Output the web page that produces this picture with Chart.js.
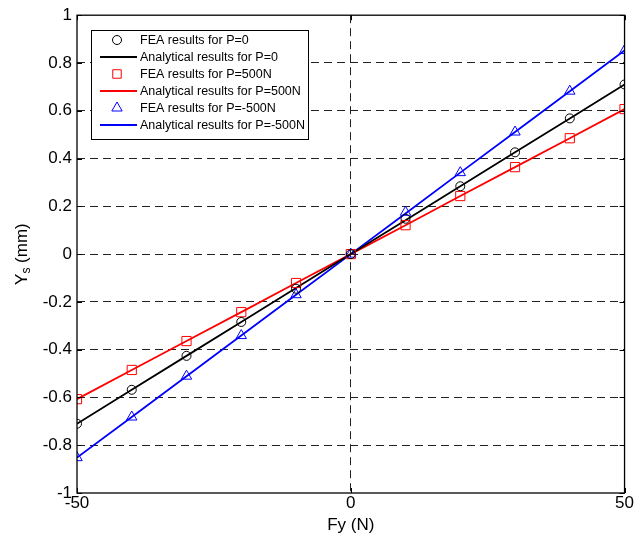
<!DOCTYPE html>
<html>
<head>
<meta charset="utf-8">
<script src="https://cdn.jsdelivr.net/npm/chart.js@4/dist/chart.umd.min.js"></script>
<style>
  html, body { margin: 0; padding: 0; background: #fff; }
  #wrap { width: 634px; height: 541px; }
</style>
</head>
<body>
<div id="wrap"><canvas id="c" width="634" height="541"></canvas></div>
<script>
// Y_s deflection vs lateral force Fy for three axial loads P.

const FY = [-50, -40, -30, -20, -10, 0, 10, 20, 30, 40, 50];

const FEA_P0 = [-0.71, -0.568, -0.426, -0.284, -0.145, 0, 0.148, 0.284, 0.426, 0.568, 0.71];
const ANA_P0 = [-0.71, -0.568, -0.426, -0.284, -0.142, 0, 0.142, 0.284, 0.426, 0.568, 0.71];

const FEA_P500 = [-0.607, -0.485, -0.364, -0.243, -0.121, 0, 0.121, 0.243, 0.364, 0.485, 0.607];
const ANA_P500 = [-0.607, -0.485, -0.364, -0.243, -0.121, 0, 0.121, 0.243, 0.364, 0.485, 0.607];

const FEA_PM500 = [-0.852, -0.682, -0.511, -0.341, -0.17, 0, 0.175, 0.341, 0.511, 0.682, 0.852];
const ANA_PM500 = [-0.852, -0.682, -0.511, -0.341, -0.17, 0, 0.17, 0.341, 0.511, 0.682, 0.852];

const X_TICKS = [-50, 0, 50];
const Y_TICKS = [-1, -0.8, -0.6, -0.4, -0.2, 0, 0.2, 0.4, 0.6, 0.8, 1];

const FONT = "Liberation Sans, Arial, sans-serif";

const pts = (ys) => FY.map((x, i) => ({ x, y: ys[i] }));

function fea(label, ys, color, style, r) {
  return {
    label, data: pts(ys), showLine: false,
    pointStyle: style, pointRadius: r, pointHoverRadius: r,
    pointBorderColor: color, pointBackgroundColor: "rgba(0,0,0,0)",
    pointBorderWidth: 1, borderColor: color, order: 0,
  };
}
function ana(label, ys, color) {
  return {
    label, data: pts(ys), showLine: true, pointRadius: 0,
    borderColor: color, borderWidth: 1.8, backgroundColor: color,
    order: 1,
  };
}

const datasets = [
  fea("FEA results for P=0", FEA_P0, "#000000", "circle", 4.5),
  ana("Analytical results for P=0", ANA_P0, "#000000"),
  fea("FEA results for P=500N", FEA_P500, "#ff0000", "rect", 6.5),
  ana("Analytical results for P=500N", ANA_P500, "#ff0000"),
  fea("FEA results for P=-500N", FEA_PM500, "#0000ff", "triangle", 6),
  ana("Analytical results for P=-500N", ANA_PM500, "#0000ff"),
];

// frame, inward ticks, axis titles and the boxed legend
const decor = {
  id: "decor",
  afterDatasetsDraw(chart) {
    const { ctx, chartArea: a, scales } = chart;
    ctx.save();
    ctx.strokeStyle = "#000";
    ctx.lineWidth = 1.3;
    ctx.strokeRect(a.left, a.top, a.right - a.left, a.bottom - a.top);
    ctx.lineWidth = 1;
    ctx.beginPath();
    for (const v of Y_TICKS) {
      const y = Math.round(scales.y.getPixelForValue(v)) + 0.5;
      ctx.moveTo(a.left, y); ctx.lineTo(a.left + 5, y);
      ctx.moveTo(a.right, y); ctx.lineTo(a.right - 5, y);
    }
    for (const v of X_TICKS) {
      const x = Math.round(scales.x.getPixelForValue(v)) + 0.5;
      ctx.moveTo(x, a.bottom); ctx.lineTo(x, a.bottom - 5);
      ctx.moveTo(x, a.top); ctx.lineTo(x, a.top + 5);
    }
    ctx.stroke();

    // axis titles
    ctx.fillStyle = "#000";
    ctx.font = "17px " + FONT;
    ctx.textAlign = "center";
    ctx.textBaseline = "middle";
    ctx.fillText("Fy (N)", (a.left + a.right) / 2, 525);
    ctx.save();
    ctx.translate(22, (a.top + a.bottom) / 2);
    ctx.rotate(-Math.PI / 2);
    ctx.textAlign = "left";
    const w1 = ctx.measureText("Y").width;
    ctx.font = "12px " + FONT;
    const w2 = ctx.measureText("s").width;
    ctx.font = "17px " + FONT;
    const w3 = ctx.measureText(" (mm)").width;
    let x0 = -(w1 + w2 + w3) / 2;
    ctx.fillText("Y", x0, 0);
    ctx.font = "12px " + FONT;
    ctx.fillText("s", x0 + w1, 5);
    ctx.font = "17px " + FONT;
    ctx.fillText(" (mm)", x0 + w1 + w2, 0);
    ctx.restore();

    // legend
    const L = 91, T = 30, W = 217, H = 109, rowH = 17;
    ctx.fillStyle = "#fff";
    ctx.fillRect(L, T, W, H);
    ctx.strokeStyle = "#000";
    ctx.lineWidth = 1;
    ctx.strokeRect(L + 0.5, T + 0.5, W, H);
    ctx.font = "12.5px " + FONT;
    ctx.textAlign = "left";
    ctx.textBaseline = "middle";
    chart.data.datasets.forEach((ds, i) => {
      const y = T + 10 + i * rowH;
      if (ds.showLine) {
        ctx.strokeStyle = ds.borderColor;
        ctx.lineWidth = 1.8;
        ctx.beginPath();
        ctx.moveTo(L + 9, y); ctx.lineTo(L + 46, y);
        ctx.stroke();
      } else {
        ctx.strokeStyle = ds.pointBorderColor;
        ctx.fillStyle = "rgba(0,0,0,0)";
        ctx.lineWidth = 1;
        Chart.helpers.drawPoint(ctx, {
          pointStyle: ds.pointStyle, radius: ds.pointStyle === "circle" ? 4.5 : 6,
          borderWidth: 1,
        }, L + 26, y);
      }
      ctx.fillStyle = "#000";
      ctx.fillText(ds.label, L + 49, y + 1);
    });
    ctx.restore();
  },
};

new Chart(document.getElementById("c"), {
  type: "scatter",
  data: { datasets },
  plugins: [decor],
  options: {
    responsive: false,
    animation: false,
    events: [],
    layout: { padding: { left: 0, right: 8, top: 15, bottom: 0 } },
    plugins: { legend: { display: false }, tooltip: { enabled: false } },
    scales: {
      x: {
        type: "linear", min: -50, max: 50,
        afterBuildTicks: (s) => { s.ticks = X_TICKS.map((v) => ({ value: v })); },
        afterFit: (s) => { s.height = 48; },
        ticks: { color: "#000", font: { family: FONT, size: 17 }, padding: 0, maxRotation: 0,
                 callback: (v) => String(v) },
        grid: { color: (c) => (c.tick && c.tick.value === 0 ? "#222" : "rgba(0,0,0,0)"), lineWidth: 1, drawTicks: false },
        border: { display: false, dash: [8, 5] },
      },
      y: {
        type: "linear", min: -1, max: 1,
        afterBuildTicks: (s) => { s.ticks = Y_TICKS.map((v) => ({ value: v })); },
        afterFit: (s) => { s.width = 77; },
        ticks: { color: "#000", font: { family: FONT, size: 17 }, padding: 5,
                 callback: (v) => String(Number(v.toFixed(1))) },
        grid: { color: (c) => (c.tick && Math.abs(c.tick.value) < 0.999 ? "#222" : "rgba(0,0,0,0)"), lineWidth: 1, drawTicks: false },
        border: { display: false, dash: [8, 5] },
      },
    },
  },
});
</script>
</body>
</html>
